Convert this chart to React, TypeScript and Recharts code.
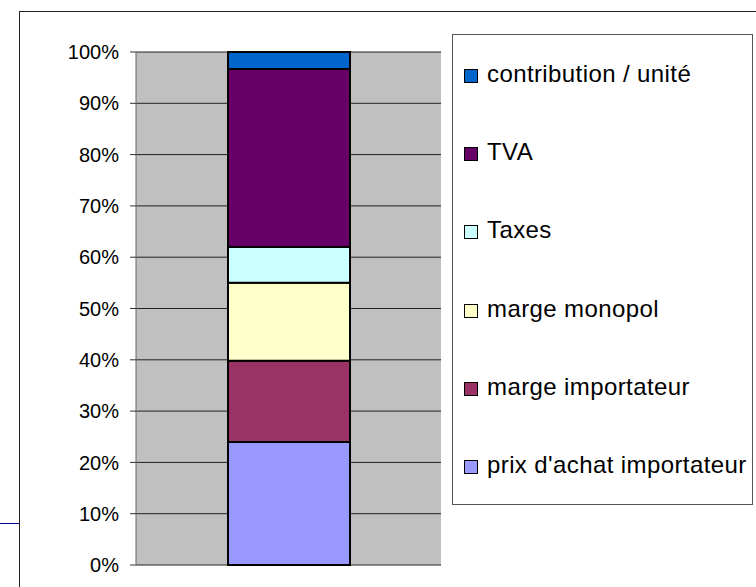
import { BarChart, Bar, XAxis, YAxis, CartesianGrid, Legend } from "recharts";

const categories = [""];
const prixAchat = [24.0];
const margeImportateur = [15.8];
const margeMonopol = [15.2];
const taxes = [7.0];
const tva = [34.7];
const contribution = [3.3];
const yTicks = [0, 0.1, 0.2, 0.3, 0.4, 0.5, 0.6, 0.7, 0.8, 0.9, 1];

const series = [
  { key: "prix", name: "prix d'achat importateur", values: prixAchat, color: "#9999FF" },
  { key: "margeImp", name: "marge importateur", values: margeImportateur, color: "#993366" },
  { key: "margeMono", name: "marge monopol", values: margeMonopol, color: "#FFFFCC" },
  { key: "taxes", name: "Taxes", values: taxes, color: "#CCFFFF" },
  { key: "tva", name: "TVA", values: tva, color: "#660066" },
  { key: "contrib", name: "contribution / unité", values: contribution, color: "#0066CC" },
];

const data = categories.map((name, i) => {
  const row: Record<string, string | number> = { name };
  series.forEach((s) => {
    row[s.key] = s.values[i];
  });
  return row;
});

const FONT = '"Liberation Sans", Arial, sans-serif';

function LegendBox() {
  const items = [...series].reverse();
  return (
    <div
      style={{
        boxSizing: "border-box",
        width: 301,
        height: 471,
        border: "1px solid #555",
        background: "#fff",
        display: "flex",
        flexDirection: "column",
        justifyContent: "space-around",
        fontFamily: FONT,
        fontSize: 24,
        letterSpacing: 0.4,
        color: "#000",
      }}
    >
      {items.map((s) => (
        <div key={s.key} style={{ display: "flex", alignItems: "center", paddingLeft: 11, lineHeight: "26px" }}>
          <span
            style={{
              display: "inline-block",
              width: 12,
              height: 12,
              background: s.color,
              border: "1px solid #000",
              marginRight: 9,
              marginTop: 4,
            }}
          />
          <span>{s.name}</span>
        </div>
      ))}
    </div>
  );
}

export default function App() {
  return (
    <div style={{ position: "absolute", left: 0, top: 0, width: 756, height: 587, background: "#fff", overflow: "hidden" }}>
      <div
        style={{
          position: "absolute",
          left: 19,
          top: 11,
          width: 800,
          height: 700,
          borderTop: "1px solid #222",
          borderLeft: "1px solid #222",
        }}
      />
      <div style={{ position: "absolute", left: 0, top: 523, width: 19, height: 1, background: "#000099" }} />
      <div style={{ position: "absolute", left: 0, top: 0 }}>
        <BarChart
          width={756}
          height={587}
          data={data}
          stackOffset="expand"
          margin={{ top: 52, right: 315, bottom: 22, left: 0 }}
        >
          <CartesianGrid vertical={false} fill="#C0C0C0" fillOpacity={1} stroke="#222" strokeOpacity={1} />
          <XAxis dataKey="name" tick={false} tickLine={false} height={0} axisLine={{ stroke: "#777" }} />
          <XAxis xAxisId="top" dataKey="name" orientation="top" tick={false} tickLine={false} height={0} axisLine={{ stroke: "#777" }} />
          <YAxis
            width={136}
            domain={[0, 1]}
            ticks={yTicks}
            interval={0}
            tickFormatter={(v: number) => `${Math.round(v * 100)}%`}
            tick={{ fill: "#000", fontSize: 20, fontFamily: FONT }}
            tickSize={6}
            tickMargin={11}
            tickLine={{ stroke: "#333" }}
            axisLine={{ stroke: "#666" }}
          />
          <YAxis
            yAxisId="right"
            orientation="right"
            width={0}
            domain={[0, 1]}
            tick={false}
            tickLine={false}
            axisLine={{ stroke: "#777" }}
          />
          {series.map((s) => (
            <Bar
              key={s.key}
              dataKey={s.key}
              name={s.name}
              stackId="a"
              fill={s.color}
              stroke="#000"
              strokeWidth={2}
              barSize={122}
              isAnimationActive={false}
            />
          ))}
          <Legend
            layout="horizontal"
            align="center"
            verticalAlign="middle"
            wrapperStyle={{ left: 452, top: 34, width: 301, height: 471 }}
            content={() => <LegendBox />}
          />
        </BarChart>
      </div>
    </div>
  );
}
